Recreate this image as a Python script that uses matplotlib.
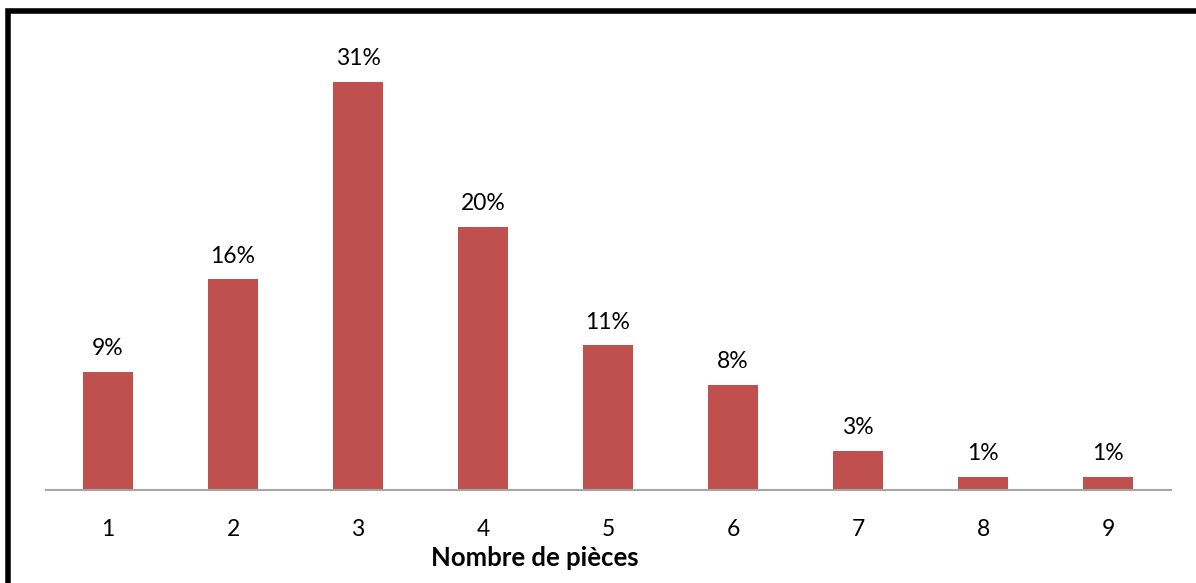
import matplotlib
matplotlib.use("Agg")
import matplotlib.pyplot as plt
from matplotlib.patches import Rectangle

categories = ["1", "2", "3", "4", "5", "6", "7", "8", "9"]
shares = [9, 16, 31, 20, 11, 8, 3, 1, 1]
labels = ["9%", "16%", "31%", "20%", "11%", "8%", "3%", "1%", "1%"]

plt.rcParams["font.family"] = ["Lato", "DejaVu Sans"]

W, H = 1196, 583
fig = plt.figure(figsize=(W / 100, H / 100), dpi=100)

# plot area in pixel coordinates
left_px, right_px = 45.5, 1170.5
base_px = 490
ymax = 35
px_per_unit = 408 / 31
top_px = base_px - ymax * px_per_unit
ax_h = base_px - top_px
ax_w = right_px - left_px
ax = fig.add_axes([left_px / W, 1 - base_px / H, ax_w / W, ax_h / H])

x = list(range(len(categories)))
ax.bar(x, shares, width=0.4, color="#C0504D", zorder=2)
ax.set_xlim(-0.5, len(categories) - 0.5)
ax.set_ylim(0, ymax)

for xi, v, lab in zip(x, shares, labels):
    ax.annotate(lab, (xi, v), xytext=(0, 12), textcoords="offset points",
                ha="center", va="baseline", fontsize=16.5, color="#000000")

for s in ["top", "right", "left"]:
    ax.spines[s].set_visible(False)
ax.spines["bottom"].set_color("#A6A6A6")
ax.spines["bottom"].set_linewidth(1.5)
ax.set_yticks([])
ax.set_xticks(x)
ax.set_xticklabels(categories, fontsize=16.5)
ax.tick_params(axis="x", length=0, pad=21)
ax.set_xlabel("Nombre de pièces", fontsize=18.5, fontweight="bold")
ax.xaxis.set_label_coords((535 - left_px) / ax_w, -(546 - base_px) / ax_h)

# thick frame around the chart area
fig.patches.append(Rectangle((7.5 / W, -0.5), 2, 1.5 - 10.5 / H,
                             transform=fig.transFigure, fill=False,
                             edgecolor="black", linewidth=4, clip_on=False))

fig.savefig("out.png", dpi=100)
